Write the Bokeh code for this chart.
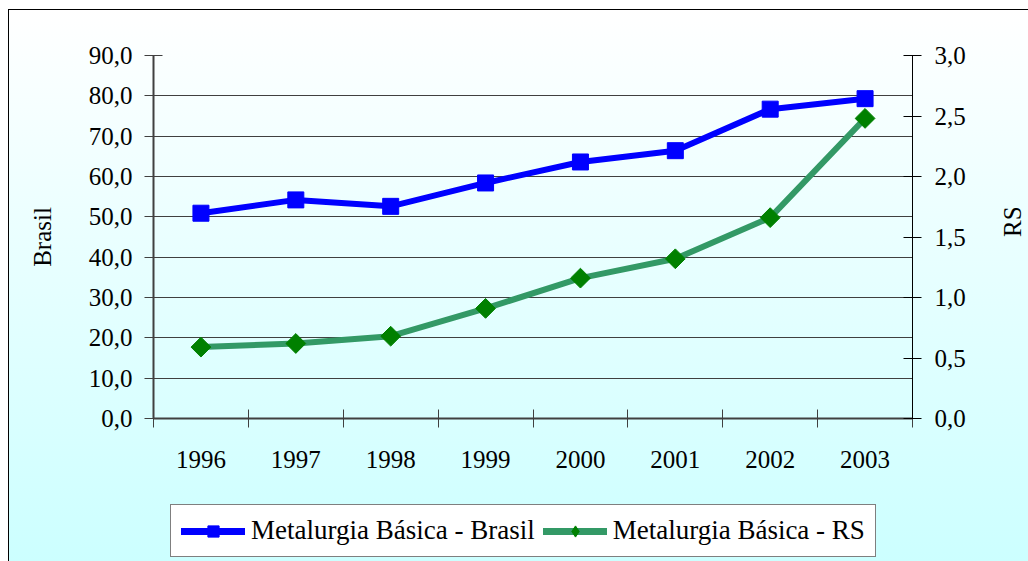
import math
from bokeh.plotting import figure
from bokeh.layouts import column
from bokeh.models import (Range1d, LinearAxis, FixedTicker, Legend, LegendItem)
from bokeh.embed import file_html
from bokeh.resources import INLINE

years = ["1996", "1997", "1998", "1999", "2000", "2001", "2002", "2003"]
brasil = [50.9, 54.2, 52.6, 58.4, 63.6, 66.4, 76.7, 79.3]
rs = [0.59, 0.62, 0.68, 0.91, 1.16, 1.32, 1.66, 2.48]
left_ticks = [0, 10, 20, 30, 40, 50, 60, 70, 80, 90]
right_ticks = [0, 0.5, 1.0, 1.5, 2.0, 2.5, 3.0]
series_names = ["Metalurgia Básica - Brasil", "Metalurgia Básica - RS"]

FONT = "Liberation Serif"
FS = "25px"
BLUE = "#0000ff"
GREEN_LINE = "#339966"
GREEN_MARK = "#008000"

xs = [i + 0.5 for i in range(len(years))]

p = figure(frame_width=759, frame_height=363, output_backend="svg", toolbar_location=None,
           x_range=Range1d(0, len(years)), y_range=Range1d(0, 90),
           min_border_left=144, min_border_right=112, min_border_top=45,
           min_border_bottom=80)
p.extra_y_ranges = {"rs": Range1d(0, 3)}

p.background_fill_alpha = 0
p.border_fill_alpha = 0
p.outline_line_color = None

# x axis
p.xaxis.ticker = FixedTicker(ticks=xs, minor_ticks=list(range(len(years) + 1)))
p.xaxis.major_label_overrides = {x: y for x, y in zip(xs, years)}
p.xaxis.major_tick_line_color = None
p.xaxis.major_tick_in = 0
p.xaxis.major_tick_out = 0
p.xaxis.minor_tick_in = 9
p.xaxis.minor_tick_out = 9
p.xaxis.minor_tick_line_color = "#404040"
p.xaxis.axis_line_color = "#404040"
p.xaxis.axis_line_width = 2
p.xaxis.major_label_standoff = 23
p.xaxis.major_label_text_font = FONT
p.xaxis.major_label_text_font_size = FS
p.xaxis.major_label_text_color = "black"

# left axis
p.yaxis.ticker = FixedTicker(ticks=left_ticks, minor_ticks=[])
p.yaxis.major_label_overrides = {t: f"{t:.1f}".replace(".", ",") for t in left_ticks}
p.yaxis.major_tick_in = 9
p.yaxis.major_tick_out = 9
p.yaxis.major_tick_line_color = "#404040"
p.yaxis.axis_line_color = "#404040"
p.yaxis.axis_line_width = 2
p.yaxis.major_label_standoff = 12
p.yaxis.major_label_text_font = FONT
p.yaxis.major_label_text_font_size = FS
p.yaxis.major_label_text_color = "black"
p.yaxis.axis_label = "Brasil"
p.yaxis.axis_label_text_font = FONT
p.yaxis.axis_label_text_font_size = FS
p.yaxis.axis_label_text_font_style = "normal"
p.yaxis.axis_label_text_color = "black"
p.yaxis.axis_label_standoff = 30

# right axis
ra = LinearAxis(y_range_name="rs", ticker=FixedTicker(ticks=right_ticks, minor_ticks=[]))
ra.major_label_overrides = {t: f"{t:.1f}".replace(".", ",") for t in right_ticks}
ra.major_tick_in = 9
ra.major_tick_out = 9
ra.major_tick_line_color = "black"
ra.axis_line_color = "black"
ra.major_label_standoff = 13
ra.major_label_text_font = FONT
ra.major_label_text_font_size = FS
ra.major_label_text_color = "black"
ra.axis_label = "RS"
ra.axis_label_text_font = FONT
ra.axis_label_text_font_size = FS
ra.axis_label_text_font_style = "normal"
ra.axis_label_text_color = "black"
ra.axis_label_standoff = 44
ra.axis_label_orientation = 1.5707963
p.add_layout(ra, "right")

p.xgrid.grid_line_color = None
p.ygrid.ticker = FixedTicker(ticks=left_ticks)
p.ygrid.grid_line_color = "#404040"
p.ygrid.grid_line_width = 1

p.line(xs, brasil, line_color=BLUE, line_width=6)
p.scatter(xs, brasil, marker="square", size=16, fill_color=BLUE, line_color=BLUE)
p.line(xs, rs, y_range_name="rs", line_color=GREEN_LINE, line_width=6)
p.scatter(xs, rs, y_range_name="rs", marker="square", angle=math.pi / 4, size=14,
          fill_color=GREEN_MARK, line_color=GREEN_MARK)

# legend strip below the chart (its frame is aligned with the chart frame)
p2 = figure(width=1019, height=63, output_backend="svg", toolbar_location=None,
            x_axis_type=None, y_axis_type=None, min_border=0,
            x_range=Range1d(0, 1), y_range=Range1d(0, 1))
p2.background_fill_alpha = 0
p2.border_fill_alpha = 0
p2.outline_line_color = None
p2.grid.grid_line_color = None
off = [-10, -9]
g1 = p2.line(off, off, line_color=BLUE, line_width=7, line_cap="round")
g2 = p2.scatter(off, off, marker="square", size=14, fill_color=BLUE, line_color=BLUE)
g3 = p2.line(off, off, line_color=GREEN_LINE, line_width=7, line_cap="round")
g4 = p2.scatter(off, off, marker="diamond", size=17,
                fill_color=GREEN_MARK, line_color=GREEN_MARK)

legend = Legend(items=[LegendItem(label=series_names[0], renderers=[g1, g2]),
                       LegendItem(label=series_names[1], renderers=[g3, g4])],
                orientation="horizontal", location=(17, 4))
legend.label_text_font = FONT
legend.label_text_font_size = "27px"
legend.label_text_color = "black"
legend.glyph_width = 64
legend.glyph_height = 28
legend.label_standoff = 6
legend.spacing = 8
legend.padding = 10
legend.margin = 0
legend.border_line_color = "black"
legend.border_line_width = 1
legend.background_fill_color = "white"
legend.background_fill_alpha = 1
p2.add_layout(legend, "center")

layout = column(p, p2, spacing=0)
layout.styles = {"background": "linear-gradient(to bottom, #ffffff 0%, #ccffff 100%)",
                 "border-top": "1px solid black", "border-left": "1px solid black",
                 "margin-left": "8px", "margin-top": "9px"}

open("out.html", "w").write(file_html(layout, INLINE))
